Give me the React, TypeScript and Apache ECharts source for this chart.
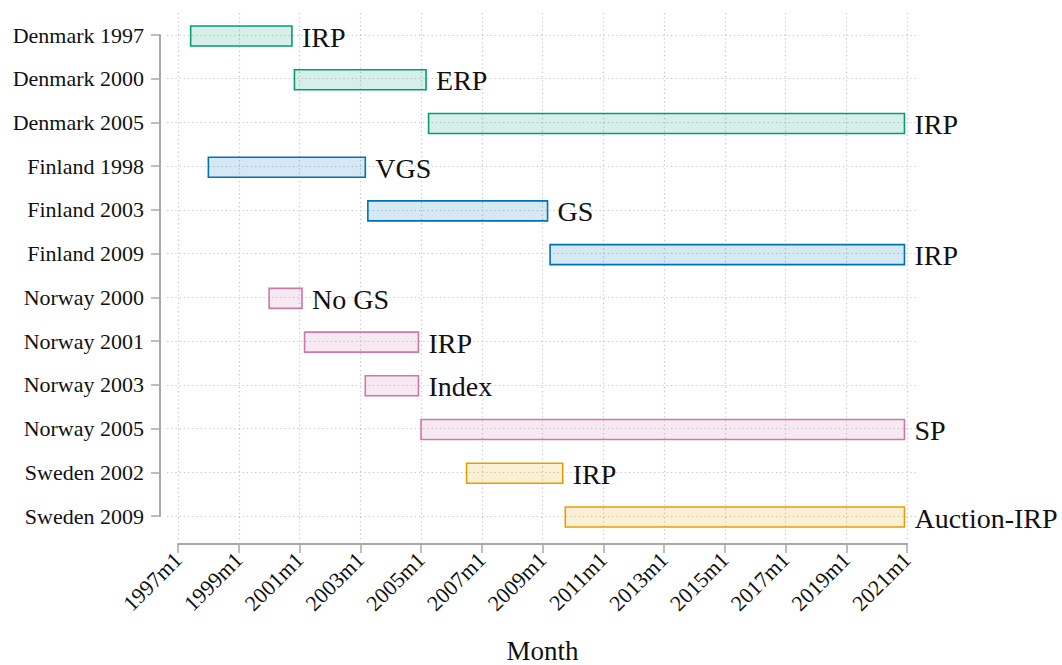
import React, { useEffect, useRef } from "react";
import * as echarts from "echarts";

const categories = [
  "Denmark 1997", "Denmark 2000", "Denmark 2005",
  "Finland 1998", "Finland 2003", "Finland 2009",
  "Norway 2000", "Norway 2001", "Norway 2003", "Norway 2005",
  "Sweden 2002", "Sweden 2009",
];
const startMonths = [
  "1997m6", "2000m11", "2005m4",
  "1998m1", "2003m4", "2009m4",
  "2000m1", "2001m3", "2003m3", "2005m1",
  "2006m7", "2009m10",
];
const endMonths = [
  "2000m10", "2005m3", "2020m12",
  "2003m3", "2009m3", "2020m12",
  "2001m2", "2004m12", "2004m12", "2020m12",
  "2009m9", "2020m12",
];
const barLabels = [
  "IRP", "ERP", "IRP",
  "VGS", "GS", "IRP",
  "No GS", "IRP", "Index", "SP",
  "IRP", "Auction-IRP",
];
const countries = ["Denmark", "Finland", "Norway", "Sweden"];
const countryColors = ["#009E73", "#0072B2", "#CC79A7", "#E69F00"];
const fillColors = ["rgba(0,158,115,0.16)", "rgba(0,114,178,0.16)", "rgba(204,121,167,0.16)", "rgba(230,159,0,0.16)"];

const BASE_YEAR = 1997;
const X_MAX = 288;
const X_STEP = 24;

const toIndex = (s: string) => {
  const [y, m] = s.split("m").map(Number);
  return (y - BASE_YEAR) * 12 + (m - 1);
};

const FONT = "'Liberation Serif', 'DejaVu Serif', serif";
const GRID_COLOR = "#c4c4c4";
const AXIS_COLOR = "#a8a8a8";
const TEXT_COLOR = "#111111";

export default function App() {
  const ref = useRef<HTMLDivElement>(null);
  useEffect(() => {
    if (!ref.current) return;
    const chart = echarts.init(ref.current, null, { renderer: "svg" });
    const data = categories.map((c, i) => [
      toIndex(startMonths[i]),
      toIndex(endMonths[i]),
      i,
      countries.indexOf(c.split(" ")[0]),
      barLabels[i],
    ]);
    const dotted = { color: GRID_COLOR, width: 1.2, type: [1.2, 3] as any };
    chart.setOption({
      animation: false,
      textStyle: { fontFamily: FONT },
      grid: [
        { left: 178, right: 155, top: 35, height: 481, outerBoundsMode: "none", containLabel: false },
        { left: 167, right: 145, top: 35, height: 481, outerBoundsMode: "none", containLabel: false },
        { left: 178, right: 155, top: 13, height: 527, outerBoundsMode: "none", containLabel: false },
      ],
      xAxis: [
        { gridIndex: 0, type: "value", min: 0, max: X_MAX, show: false },
        { gridIndex: 1, type: "value", min: 0, max: X_MAX, show: false },
        {
          gridIndex: 2, type: "value", min: 0, max: X_MAX, interval: X_STEP,
          position: "bottom",
          offset: 4,
          axisLine: { show: true, onZero: false, lineStyle: { color: AXIS_COLOR, width: 2 } },
          axisTick: { show: true, length: 9, lineStyle: { color: AXIS_COLOR, width: 1.5 } },
          splitLine: { show: true, lineStyle: dotted },
          axisLabel: {
            rotate: 45, margin: 12, fontSize: 22, color: TEXT_COLOR, fontFamily: FONT,
            formatter: (v: number) => `${BASE_YEAR + Math.round(v / 12)}m1`,
          },
          name: "Month", nameLocation: "middle", nameGap: 93,
          nameTextStyle: { fontSize: 27, color: TEXT_COLOR, fontFamily: FONT },
        },
      ],
      yAxis: [
        {
          gridIndex: 0, type: "category", data: categories, inverse: true, boundaryGap: false,
          offset: 18,
          axisLine: { show: true, onZero: false, lineStyle: { color: AXIS_COLOR, width: 2 } },
          axisTick: { show: true, length: 9, alignWithLabel: true, lineStyle: { color: AXIS_COLOR, width: 1.5 } },
          axisLabel: { margin: 16, fontSize: 22, color: TEXT_COLOR, fontFamily: FONT, interval: 0 },
          splitLine: { show: false },
        },
        {
          gridIndex: 1, type: "category", data: categories, inverse: true, boundaryGap: false,
          axisLine: { show: false }, axisTick: { show: false }, axisLabel: { show: false },
          splitLine: { show: true, interval: 0, lineStyle: dotted },
        },
        { gridIndex: 2, type: "value", min: 0, max: 1, show: false, splitLine: { show: false } },
      ],
      series: [
        {
          type: "custom",
          xAxisIndex: 0,
          yAxisIndex: 0,
          clip: false,
          z: 10,
          data,
          renderItem: (params: any, api: any) => {
            const s = api.coord([api.value(0), api.value(2)]);
            const e = api.coord([api.value(1), api.value(2)]);
            const g = api.value(3) as number;
            const idx = params.dataIndex;
            const h = 20;
            return {
              type: "group",
              children: [
                {
                  type: "rect",
                  shape: { x: s[0], y: s[1] - h / 2 + 1, width: e[0] - s[0], height: h },
                  style: { fill: fillColors[g], stroke: countryColors[g], lineWidth: 1.6 },
                },
                {
                  type: "text",
                  x: e[0] + 10,
                  y: s[1] + 2,
                  style: {
                    text: barLabels[idx],
                    fontSize: 28,
                    fontFamily: FONT,
                    fill: TEXT_COLOR,
                    verticalAlign: "middle",
                    align: "left",
                  },
                },
              ],
            };
          },
        },
      ],
    });
    return () => chart.dispose();
  }, []);
  return (
    <div
      ref={ref}
      style={{ position: "fixed", left: 0, top: 0, width: 1062, height: 665, background: "#ffffff" }}
    />
  );
}
